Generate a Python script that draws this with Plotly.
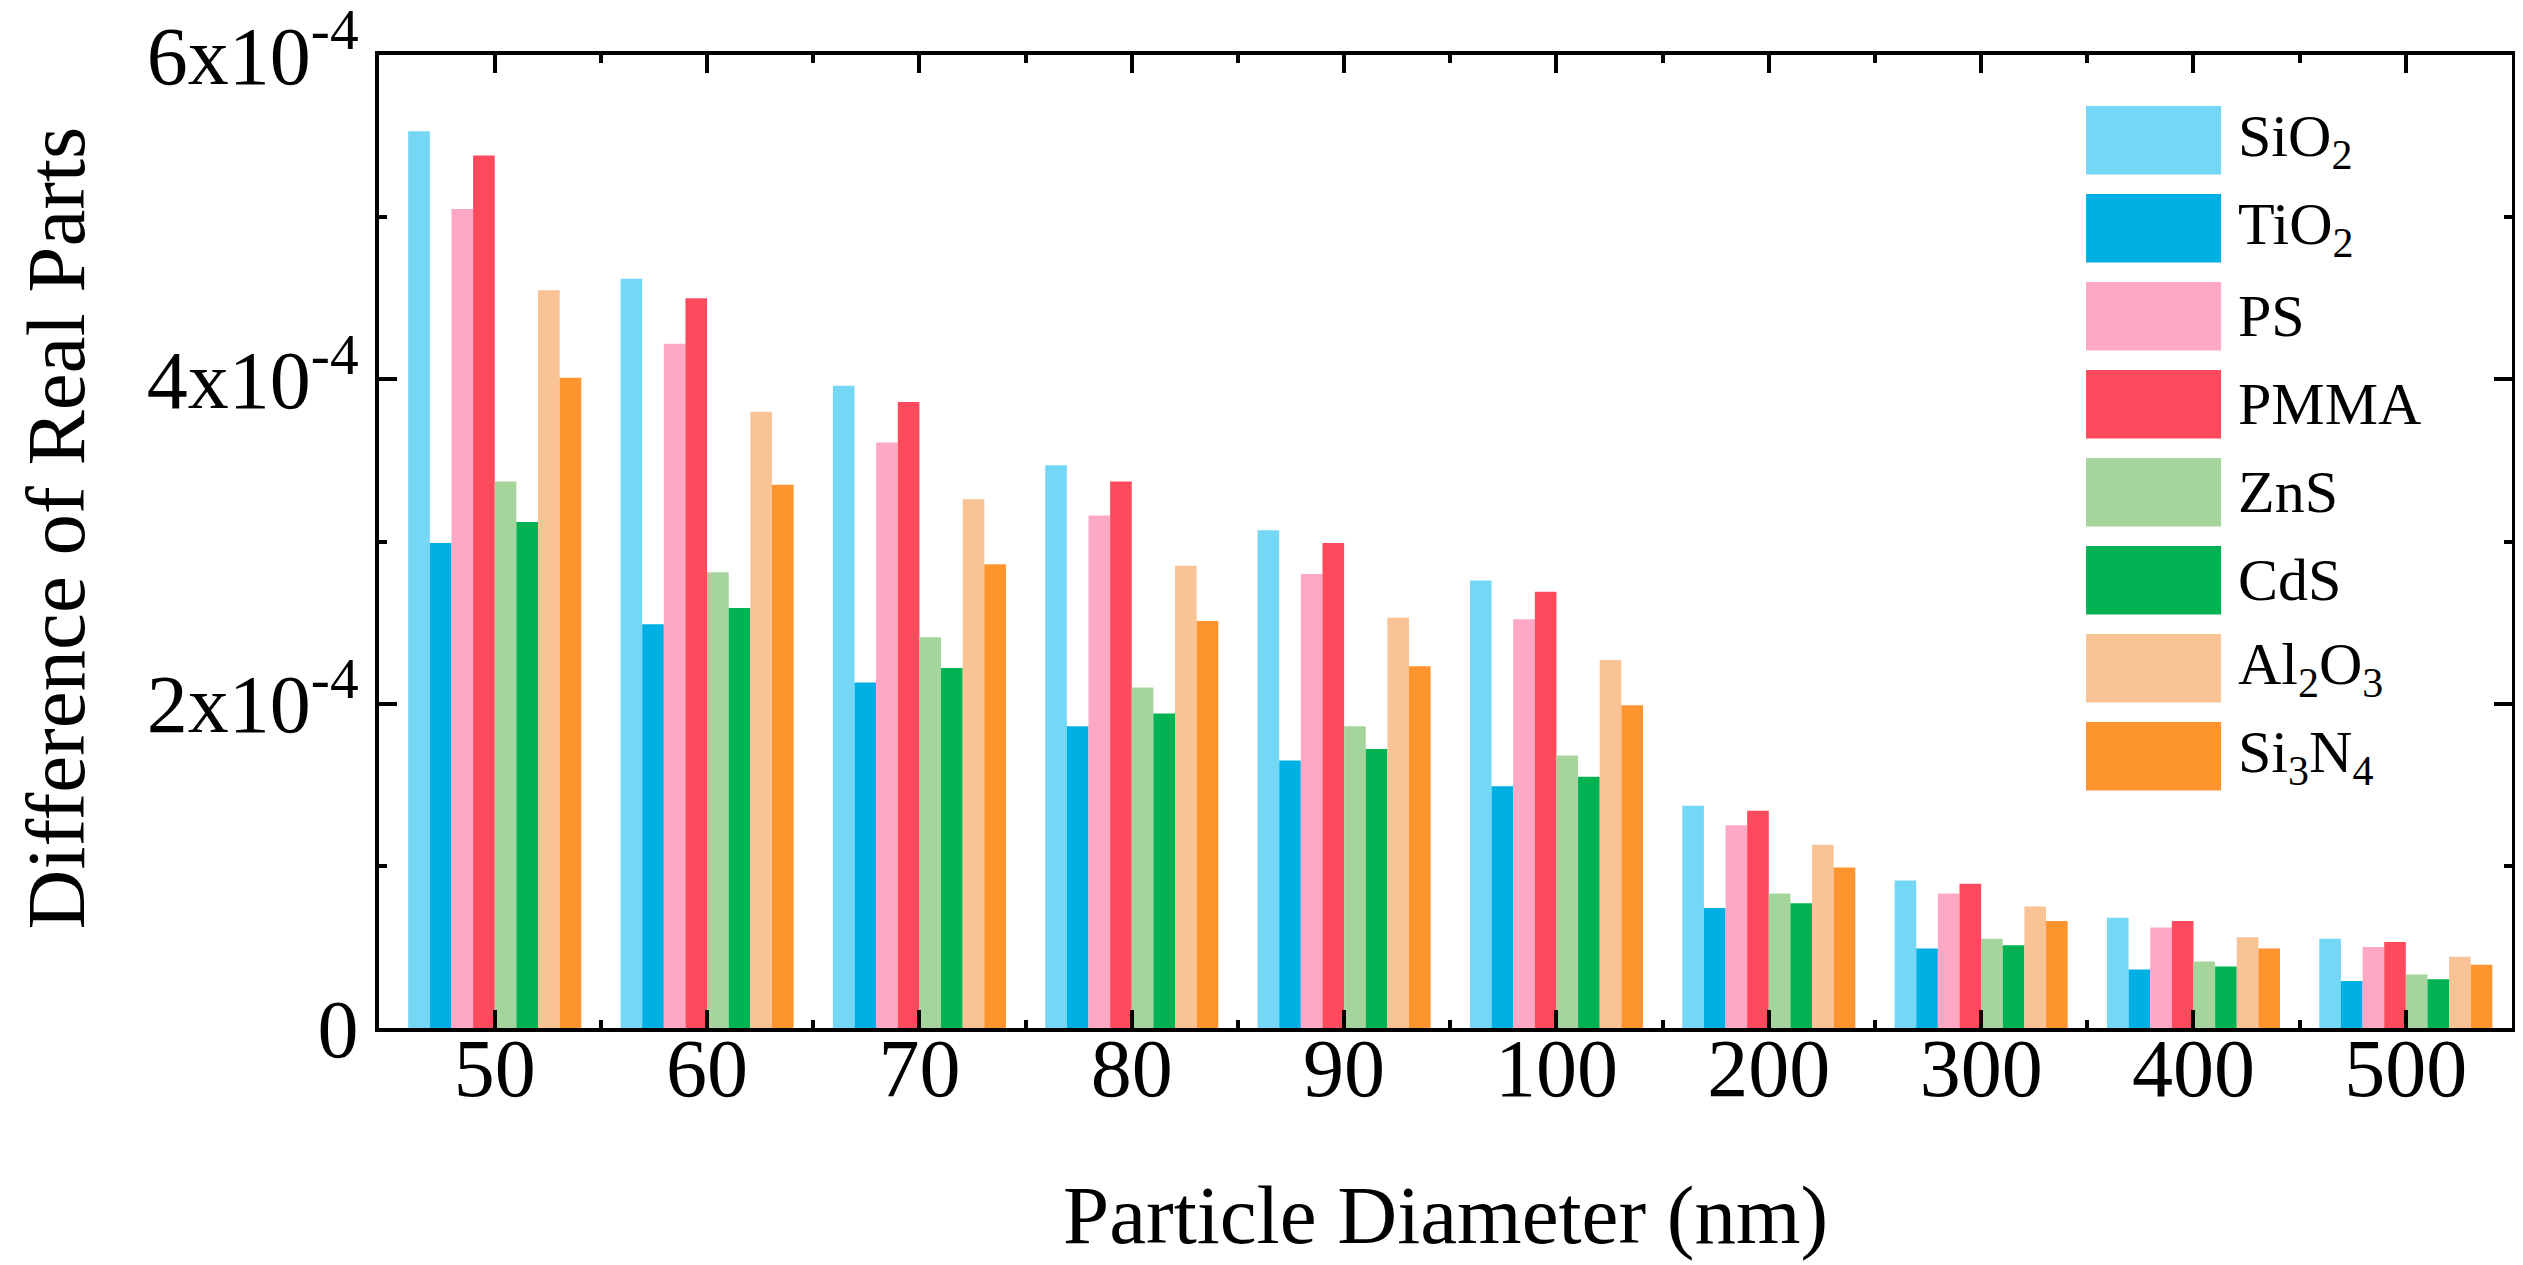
import plotly.graph_objects as go

# ---- data, values in units of 1e-4 ----
diameters = ["50", "60", "70", "80", "90", "100", "200", "300", "400", "500"]
series_names = ["SiO<sub>2</sub>", "TiO<sub>2</sub>", "PS", "PMMA", "ZnS", "CdS",
                "Al<sub>2</sub>O<sub>3</sub>", "Si<sub>3</sub>N<sub>4</sub>"]
colors = ["#74D7F5", "#00B0E5", "#FEA8C6", "#FE4A5D", "#A6D49D", "#00B251", "#FAC396", "#FE942E"]

sio2  = [5.53, 4.62, 3.96, 3.47, 3.07, 2.76, 1.37, 0.91, 0.68, 0.55]
tio2  = [2.99, 2.49, 2.13, 1.86, 1.65, 1.49, 0.74, 0.49, 0.36, 0.29]
ps    = [5.05, 4.22, 3.61, 3.16, 2.80, 2.52, 1.25, 0.83, 0.62, 0.50]
pmma  = [5.38, 4.50, 3.86, 3.37, 2.99, 2.69, 1.34, 0.89, 0.66, 0.53]
zns   = [3.37, 2.81, 2.41, 2.10, 1.86, 1.68, 0.83, 0.55, 0.41, 0.33]
cds   = [3.12, 2.59, 2.22, 1.94, 1.72, 1.55, 0.77, 0.51, 0.38, 0.30]
al2o3 = [4.55, 3.80, 3.26, 2.85, 2.53, 2.27, 1.13, 0.75, 0.56, 0.44]
si3n4 = [4.01, 3.35, 2.86, 2.51, 2.23, 1.99, 0.99, 0.66, 0.49, 0.39]

y_tickvals = [0, 2, 4, 6]
y_ticktext = ["0", "2x10<sup>-4</sup>", "4x10<sup>-4</sup>", "6x10<sup>-4</sup>"]

x_title = "Particle Diameter (nm)"
y_title = "Difference of Real Parts"

all_series = [sio2, tio2, ps, pmma, zns, cds, al2o3, si3n4]
FONT = "Liberation Serif"

xpos = list(range(len(diameters)))

fig = go.Figure()
for name, col, vals in zip(series_names, colors, all_series):
    fig.add_trace(go.Bar(
        x=xpos, y=vals, name=name,
        marker=dict(color=col, line=dict(width=0)),
        showlegend=False,
        hovertemplate="%{y}x10<sup>-4</sup><extra>" + name + "</extra>",
    ))

# custom legend (large swatches like the original)
sw_x0, sw_x1 = 0.8003, 0.8636
top0, h, step = 0.9476, 0.0705, 0.09044
for i, (name, col) in enumerate(zip(series_names, colors)):
    yt = top0 - i * step
    fig.add_shape(type="rect", xref="paper", yref="paper",
                  x0=sw_x0, x1=sw_x1, y0=yt - h, y1=yt,
                  fillcolor=col, line=dict(width=0))
    fig.add_annotation(xref="paper", yref="paper", x=0.8706, y=yt - h / 2,
                       text=name, showarrow=False, xanchor="left", yanchor="middle",
                       font=dict(family=FONT, size=60, color="black"))

# axis titles
fig.add_annotation(xref="paper", yref="paper", x=0.5, y=-0.1922,
                   text=x_title, showarrow=False, xanchor="center", yanchor="middle",
                   font=dict(family=FONT, size=83, color="black"))
fig.add_annotation(xref="paper", yref="paper", x=-0.1514, y=0.5134,
                   text=y_title, showarrow=False, textangle=-90,
                   xanchor="center", yanchor="middle",
                   font=dict(family=FONT, size=83, color="black"))

axis_common = dict(
    showline=True, linecolor="black", linewidth=4, mirror="ticks",
    ticks="inside", tickcolor="black", tickwidth=4, ticklen=18,
    showgrid=False, zeroline=False,
    tickfont=dict(family=FONT, size=82, color="black"),
    ticklabeloverflow="allow",
)

fig.update_xaxes(
    **axis_common,
    range=[-0.545, 9.5],
    tickmode="array", tickvals=xpos, ticktext=diameters,
    ticklabelstandoff=-34,
    minor=dict(tickmode="array", tickvals=[i + 0.5 for i in xpos[:-1]],
               ticks="inside", ticklen=8, tickwidth=4, tickcolor="black", showgrid=False),
)
fig.update_yaxes(
    **axis_common,
    range=[0, 6],
    tickmode="array", tickvals=y_tickvals, ticktext=y_ticktext,
    minor=dict(dtick=1, tick0=0, ticks="inside", ticklen=8, tickwidth=4,
               tickcolor="black", showgrid=False),
)

fig.update_layout(
    width=2523, height=1265,
    margin=dict(l=371, r=19, t=47, b=245, autoexpand=False),
    barmode="group", bargap=0.185, bargroupgap=0,
    plot_bgcolor="white", paper_bgcolor="white",
    font=dict(family=FONT, color="black"),
)

fig.write_html("out.html")
